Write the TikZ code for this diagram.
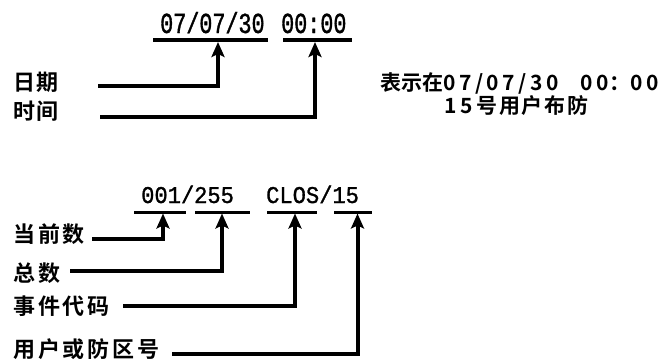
\documentclass[tikz,border=0pt]{standalone}
\usepackage{fontspec}
\usetikzlibrary{arrows.meta}
\newfontfamily\cjkTop{Noto Sans CJK SC Bold}[LetterSpace=5]
\newfontfamily\cjkBot{Noto Sans CJK SC Bold}[LetterSpace=13]
\newfontfamily\cjkPlain{Noto Sans CJK SC Bold}
\newfontfamily\cjkNote{Noto Sans CJK SC Bold}[LetterSpace=8]
\newfontfamily\cjkWide{Noto Sans CJK SC Bold}[LetterSpace=17]
\newfontfamily\monoTop{Liberation Mono}[FakeStretch=0.75,FakeBold=1.2]
\newfontfamily\monoBot{Liberation Mono}[FakeStretch=0.92,FakeBold=1.2]
\begin{document}
\begin{tikzpicture}[x=1pt,y=-1pt,
  labtop/.style={anchor=west,inner sep=0pt,font=\cjkTop\fontsize{22}{22}\selectfont},
  labbot/.style={anchor=west,inner sep=0pt,font=\cjkBot\fontsize{22}{22}\selectfont},
  note/.style={anchor=west,inner sep=0pt,font=\cjkPlain\fontsize{21}{21}\selectfont},
  codetop/.style={anchor=base west,inner sep=0pt,font=\monoTop\fontsize{29}{29}\selectfont},
  codebot/.style={anchor=base west,inner sep=0pt,font=\monoBot\fontsize{24}{24}\selectfont},
  ulinetop/.style={line width=3.5pt},
  ulinebot/.style={line width=3pt},
  conn/.style={line width=4pt,-{Stealth[length=15pt,width=13pt,inset=3pt]}}
]
\useasboundingbox (0,0) rectangle (659,360);

% ---------- top part ----------
\node[codetop] (date) at (160,33) {07/07/30};
\node[codetop] (time) at (281,33) {00:00};
\coordinate (ua1) at (153,40); \coordinate (ua2) at (268,40);
\coordinate (ub1) at (283,40); \coordinate (ub2) at (352,40);
\draw[ulinetop] (ua1) -- (ua2);
\draw[ulinetop] (ub1) -- (ub2);

\node[labtop] (riqi) at (13,82) {日期};
\node[labtop] (shijian) at (13,111) {时间};

\coordinate (s1) at (98,86);   \coordinate (t1) at (218,42);
\coordinate (s2) at (100,117); \coordinate (t2) at (315,42);
\draw[conn] (s1) -| (t1);
\draw[conn] (s2) -| (t2);

\node[note] (note1) at (380,83) {表示在{\cjkWide 07/07/30}\hspace{22pt}{\cjkWide 00}：{\cjkWide 00}};
\node[note] (note2) at (444,106) {{\cjkWide 15}\hspace{4pt}{\cjkNote 号用户布防}};

% ---------- bottom part ----------
\node[codebot] (count) at (141,203) {001/255};
\node[codebot] (code) at (266,203) {CLOS/15};
\coordinate (v1a) at (134,212); \coordinate (v1b) at (186,212);
\coordinate (v2a) at (195,212); \coordinate (v2b) at (250,212);
\coordinate (v3a) at (267,212); \coordinate (v3b) at (317,212);
\coordinate (v4a) at (334,212); \coordinate (v4b) at (372,212);
\draw[ulinebot] (v1a) -- (v1b);
\draw[ulinebot] (v2a) -- (v2b);
\draw[ulinebot] (v3a) -- (v3b);
\draw[ulinebot] (v4a) -- (v4b);

\node[labbot] (dangqian) at (13,234) {当前数};
\node[labbot] (zongshu) at (13,273) {总数};
\node[labbot] (shijiandaima) at (13,306) {事件代码};
\node[labbot] (yonghu) at (13,349) {用户或防区号};

\coordinate (p1) at (92,239);  \coordinate (q1) at (163,213.5);
\coordinate (p2) at (70,271);  \coordinate (q2) at (222,213.5);
\coordinate (p3) at (123,306); \coordinate (q3) at (295,213.5);
\coordinate (p4) at (172,354); \coordinate (q4) at (357.5,213.5);
\draw[conn] (p1) -| (q1);
\draw[conn] (p2) -| (q2);
\draw[conn] (p3) -| (q3);
\draw[conn] (p4) -| (q4);
\end{tikzpicture}
\end{document}
